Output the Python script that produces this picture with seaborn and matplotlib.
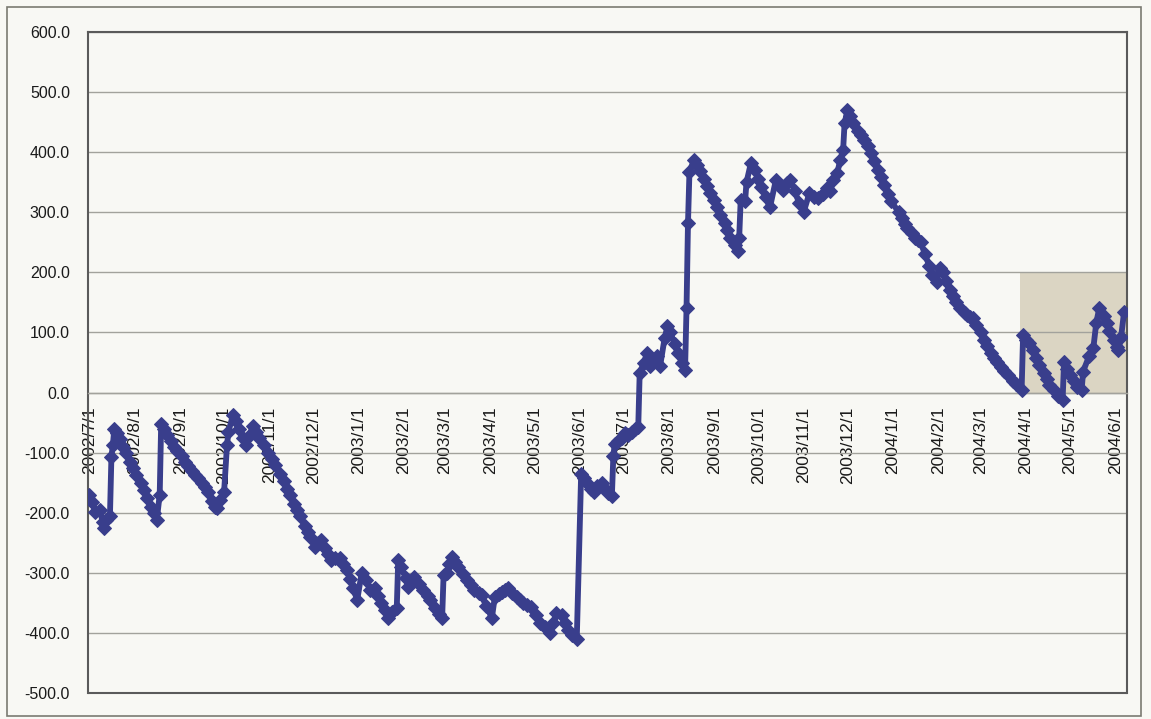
import matplotlib
matplotlib.use("Agg")
import matplotlib.pyplot as plt
import matplotlib.dates as mdates
from matplotlib.patches import Rectangle
from matplotlib.ticker import FuncFormatter
import numpy as np
import pandas as pd
import seaborn as sns

# values (approx. every few days)
dates = [
    "2002-07-01", "2002-07-03", "2002-07-05", "2002-07-08", "2002-07-10", "2002-07-11",
    "2002-07-12", "2002-07-15", "2002-07-16", "2002-07-17", "2002-07-18", "2002-07-20",
    "2002-07-22", "2002-07-24", "2002-07-26", "2002-07-29", "2002-07-31", "2002-08-02",
    "2002-08-05", "2002-08-07", "2002-08-09", "2002-08-12", "2002-08-14", "2002-08-16",
    "2002-08-18", "2002-08-19", "2002-08-21", "2002-08-23", "2002-08-26", "2002-08-28",
    "2002-08-30", "2002-09-02", "2002-09-04", "2002-09-06", "2002-09-09", "2002-09-11",
    "2002-09-13", "2002-09-16", "2002-09-18", "2002-09-20", "2002-09-23", "2002-09-25",
    "2002-09-26", "2002-09-28", "2002-10-01", "2002-10-03", "2002-10-04", "2002-10-07",
    "2002-10-09", "2002-10-11", "2002-10-14", "2002-10-16", "2002-10-18", "2002-10-21",
    "2002-10-23", "2002-10-25", "2002-10-28", "2002-10-31", "2002-11-03", "2002-11-05",
    "2002-11-08", "2002-11-11", "2002-11-13", "2002-11-15", "2002-11-18", "2002-11-20",
    "2002-11-22", "2002-11-25", "2002-11-27", "2002-11-29", "2002-12-02", "2002-12-04",
    "2002-12-06", "2002-12-09", "2002-12-11", "2002-12-13", "2002-12-16", "2002-12-19",
    "2002-12-21", "2002-12-24", "2002-12-26", "2002-12-28", "2002-12-31", "2003-01-03",
    "2003-01-06", "2003-01-09", "2003-01-12", "2003-01-14", "2003-01-16", "2003-01-19",
    "2003-01-21", "2003-01-24", "2003-01-27", "2003-01-28", "2003-01-30", "2003-02-02",
    "2003-02-04", "2003-02-06", "2003-02-08", "2003-02-11", "2003-02-14", "2003-02-17",
    "2003-02-19", "2003-02-22", "2003-02-25", "2003-02-27", "2003-02-28", "2003-03-02",
    "2003-03-04", "2003-03-06", "2003-03-08", "2003-03-10", "2003-03-13", "2003-03-16",
    "2003-03-19", "2003-03-21", "2003-03-24", "2003-03-26", "2003-03-29", "2003-04-02",
    "2003-04-04", "2003-04-07", "2003-04-09", "2003-04-11", "2003-04-13", "2003-04-16",
    "2003-04-19", "2003-04-21", "2003-04-23", "2003-04-26", "2003-04-29", "2003-05-02",
    "2003-05-05", "2003-05-08", "2003-05-12", "2003-05-14", "2003-05-16", "2003-05-20",
    "2003-05-22", "2003-05-24", "2003-05-27", "2003-05-30", "2003-06-02", "2003-06-04",
    "2003-06-06", "2003-06-09", "2003-06-11", "2003-06-13", "2003-06-16", "2003-06-18",
    "2003-06-20", "2003-06-23", "2003-06-24", "2003-06-25", "2003-06-27", "2003-06-30",
    "2003-07-02", "2003-07-04", "2003-07-07", "2003-07-09", "2003-07-11", "2003-07-12",
    "2003-07-15", "2003-07-17", "2003-07-19", "2003-07-22", "2003-07-24", "2003-07-26",
    "2003-07-29", "2003-07-31", "2003-08-02", "2003-08-05", "2003-08-07", "2003-08-10",
    "2003-08-12", "2003-08-13", "2003-08-14", "2003-08-15", "2003-08-18", "2003-08-20",
    "2003-08-22", "2003-08-25", "2003-08-27", "2003-08-29", "2003-09-01", "2003-09-03",
    "2003-09-05", "2003-09-08", "2003-09-10", "2003-09-12", "2003-09-15", "2003-09-17",
    "2003-09-18", "2003-09-19", "2003-09-22", "2003-09-23", "2003-09-26", "2003-09-29",
    "2003-10-01", "2003-10-03", "2003-10-06", "2003-10-09", "2003-10-13", "2003-10-15",
    "2003-10-18", "2003-10-21", "2003-10-23", "2003-10-26", "2003-10-29", "2003-11-01",
    "2003-11-05", "2003-11-08", "2003-11-11", "2003-11-14", "2003-11-17", "2003-11-19",
    "2003-11-21", "2003-11-24", "2003-11-26", "2003-11-28", "2003-11-29", "2003-12-01",
    "2003-12-03", "2003-12-05", "2003-12-08", "2003-12-10", "2003-12-12", "2003-12-15",
    "2003-12-17", "2003-12-19", "2003-12-22", "2003-12-24", "2003-12-26", "2003-12-29",
    "2003-12-31", "2004-01-05", "2004-01-07", "2004-01-09", "2004-01-11", "2004-01-14",
    "2004-01-16", "2004-01-18", "2004-01-20", "2004-01-23", "2004-01-26", "2004-01-28",
    "2004-01-31", "2004-02-02", "2004-02-04", "2004-02-06", "2004-02-09", "2004-02-11",
    "2004-02-13", "2004-02-16", "2004-02-19", "2004-02-21", "2004-02-23", "2004-02-25",
    "2004-02-27", "2004-03-01", "2004-03-03", "2004-03-05", "2004-03-08", "2004-03-10",
    "2004-03-12", "2004-03-15", "2004-03-17", "2004-03-20", "2004-03-23", "2004-03-25",
    "2004-03-29", "2004-03-30", "2004-04-01", "2004-04-03", "2004-04-06", "2004-04-08",
    "2004-04-10", "2004-04-13", "2004-04-15", "2004-04-17", "2004-04-20", "2004-04-23",
    "2004-04-26", "2004-04-27", "2004-04-29", "2004-05-01", "2004-05-04", "2004-05-06",
    "2004-05-09", "2004-05-10", "2004-05-14", "2004-05-17", "2004-05-19", "2004-05-21",
    "2004-05-24", "2004-05-26", "2004-05-28", "2004-05-31", "2004-06-02", "2004-06-03",
    "2004-06-05", "2004-06-07",
]
values = [
    -170, -182, -198, -195, -215, -225,
    -212, -205, -107, -87, -60, -68,
    -78, -90, -100, -115, -125, -138,
    -150, -162, -175, -190, -200, -212,
    -170, -52, -60, -70, -80, -90,
    -98, -105, -115, -122, -130, -138,
    -142, -150, -158, -165, -180, -190,
    -192, -178, -165, -87, -65, -38,
    -48, -60, -75, -88, -72, -55,
    -65, -75, -88, -100, -110, -120,
    -135, -148, -160, -170, -185, -195,
    -205, -222, -232, -240, -257, -250,
    -245, -258, -268, -278, -276, -275,
    -285, -295, -310, -325, -345, -300,
    -312, -328, -325, -338, -350, -362,
    -375, -365, -358, -278, -290, -308,
    -323, -315, -307, -318, -328, -338,
    -345, -358, -368, -375, -303, -300,
    -285, -273, -282, -290, -302, -312,
    -320, -328, -333, -337, -355, -375,
    -340, -336, -332, -328, -325, -333,
    -340, -345, -350, -353, -357, -370,
    -383, -390, -400, -383, -367, -370,
    -383, -395, -403, -410, -135, -142,
    -150, -160, -165, -155, -150, -160,
    -167, -172, -105, -85, -80, -75,
    -68, -70, -65, -60, -58, 33,
    50, 66, 45, 52, 60, 45,
    90, 110, 100, 80, 65, 50,
    38, 140, 282, 367, 387, 378,
    368, 355, 343, 332, 320, 308,
    295, 282, 270, 258, 245, 235,
    258, 320, 318, 350, 382, 370,
    355, 342, 325, 308, 353, 345,
    337, 348, 353, 335, 315, 300,
    332, 325, 323, 330, 340, 335,
    353, 365, 387, 403, 448, 470,
    460, 448, 435, 428, 420, 410,
    398, 385, 370, 358, 345, 330,
    318, 300, 290, 280, 274, 265,
    258, 254, 250, 230, 210, 195,
    184, 207, 200, 185, 170, 160,
    150, 140, 132, 129, 126, 124,
    112, 100, 88, 78, 65, 57,
    51, 42, 36, 30, 20, 14,
    5, 96, 88, 83, 70, 58,
    46, 33, 22, 12, 4, -5,
    -12, 51, 40, 30, 20, 10,
    4, 35, 60, 74, 116, 140,
    128, 115, 102, 88, 76, 70,
    93, 134,
]

y_ticks = [-500, -400, -300, -200, -100, 0, 100, 200, 300, 400, 500, 600]
month_ticks = pd.date_range("2002-07-01", "2004-06-01", freq="MS")
tick_labels = [f"{d.year}/{d.month}/{d.day}" for d in month_ticks]
x_range = ("2002-06-30", "2004-06-09")
shade_start = "2004-03-28"
shade_range = (0, 200)

bg = "#f8f8f4"
navy = "#393e8c"
frame = "#5a5a5a"
grid = "#a2a29c"

sns.set_theme(style="white")
plt.rcParams["font.family"] = ["Liberation Sans", "DejaVu Sans"]

fig = plt.figure(figsize=(11.51, 7.19), dpi=100, facecolor=bg)
ax = fig.add_axes([88 / 1151, 1 - 693 / 719, (1127 - 88) / 1151, (693 - 32) / 719])
ax.set_facecolor(bg)

df = pd.DataFrame({"date": pd.to_datetime(dates), "value": values})
sns.lineplot(data=df, x="date", y="value", ax=ax, color=navy, linewidth=4.2,
             marker="D", markersize=7, markeredgecolor=navy, sort=False, zorder=3)

x0, x1 = mdates.date2num(pd.to_datetime(x_range[0])), mdates.date2num(pd.to_datetime(x_range[1]))
s0 = mdates.date2num(pd.to_datetime(shade_start))
ax.add_patch(Rectangle((s0, shade_range[0]), x1 - s0, shade_range[1] - shade_range[0],
                       facecolor="#dbd5c3", edgecolor="none", zorder=0.2))

ax.set_xlim(x0, x1)
ax.set_ylim(-500, 600)
ax.set_yticks(y_ticks)
ax.yaxis.set_major_formatter(FuncFormatter(lambda v, p: f"{v:.1f}"))
ax.set_xticks(month_ticks)
ax.set_xticklabels(tick_labels)
ax.set_xlabel("")
ax.set_ylabel("")

ax.set_axisbelow(True)
ax.yaxis.grid(True, color=grid, linewidth=1)
ax.xaxis.grid(False)

for side in ["left", "top", "right"]:
    ax.spines[side].set_color(frame)
    ax.spines[side].set_linewidth(1.5)
ax.spines["bottom"].set_position(("data", 0))
ax.spines["bottom"].set_color(grid)
ax.spines["bottom"].set_linewidth(1)
ax.axhline(-500, color=frame, linewidth=1.5, clip_on=False, zorder=4)

ax.tick_params(axis="x", direction="in", length=4, width=1, color=frame,
               pad=10, labelrotation=90, labelsize=12.5, labelcolor="#1a1a1a")
ax.tick_params(axis="y", length=0, pad=13, labelsize=11.5, labelcolor="#1a1a1a")

fig.patches.append(Rectangle((7 / 1151, 3 / 719), (1141 - 7) / 1151, (716 - 7) / 719,
                             transform=fig.transFigure, fill=False,
                             edgecolor="#7a7a72", linewidth=1.2))

fig.savefig("out.png", dpi=100, facecolor=bg)
